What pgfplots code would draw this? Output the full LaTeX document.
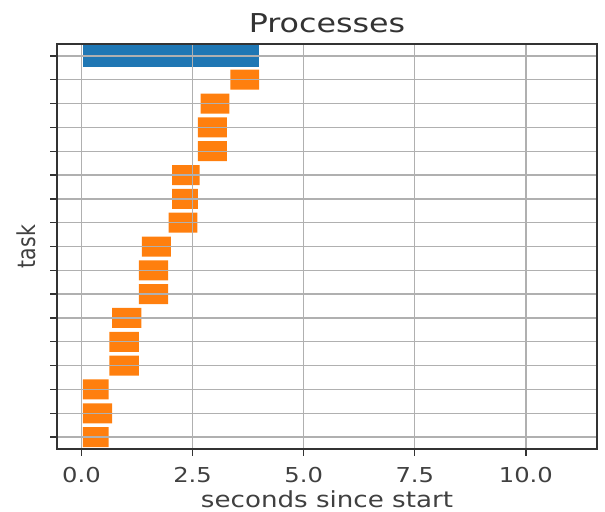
\documentclass[border=0pt]{standalone}
\usepackage{pgfplots}
\usepackage{pgfplotstable}
\pgfplotsset{compat=1.18}
\usepackage{fontspec}
\setmainfont{DejaVu Sans}[FakeStretch=1.18]
\newfontfamily\yfont{DejaVu Sans}[FakeStretch=0.83]
\newfontfamily\tfont{DejaVu Sans}[FakeStretch=1.22]
\usetikzlibrary{calc}
\definecolor{mplblue}{HTML}{1F77B4}
\definecolor{mplorange}{HTML}{FF7F0E}
\definecolor{gridgray}{HTML}{B0B0B0}

\pgfplotstableread{
y start orange blue
0 0.03 0 3.97
1 3.35 0.65 0
2 2.68 0.65 0
3 2.62 0.65 0
4 2.62 0.65 0
5 2.04 0.62 0
6 2.04 0.58 0
7 1.96 0.65 0
8 1.36 0.65 0
9 1.29 0.66 0
10 1.29 0.66 0
11 0.69 0.66 0
12 0.63 0.66 0
13 0.63 0.66 0
14 0.03 0.58 0
15 0.03 0.66 0
16 0.03 0.58 0
}\tasks

\begin{document}
\begin{tikzpicture}
\begin{axis}[
  scale only axis,
  width=405pt, height=303.75pt,
  xbar stacked,
  xmin=-0.55, xmax=11.6,
  ymin=-0.5, ymax=16.5,
  y dir=reverse,
  axis on top,
  xtick={0,2.5,5,7.5,10},
  xticklabels={0.0,2.5,5.0,7.5,10.0},
  ytick={0,1,...,16},
  yticklabels={},
  tick align=outside,
  major tick length=5pt,
  tick style={black!80, line width=1pt},
  xtick pos=bottom, ytick pos=left,
  grid=major,
  major grid style={gridgray, line width=1pt},
  axis line style={black!80, line width=1.2pt},
  /pgf/number format/assume math mode=true,
  xticklabel style={font=\fontsize{15.4pt}{18pt}\selectfont, text=black!75, inner sep=0pt, anchor=north, yshift=-8.8pt},
  title={Processes},
  title style={font=\tfont\fontsize{19.5pt}{23pt}\selectfont, text=black!80, at={(axis description cs:0.5,1)}, anchor=base, yshift=3pt},
  xlabel={seconds since start},
  xlabel style={font=\fontsize{16.6pt}{19pt}\selectfont, text=black!75, at={(axis description cs:0.5,0)}, anchor=base, yshift=-43.5pt},
  ylabel={task},
  ylabel style={font=\yfont\fontsize{18.5pt}{22pt}\selectfont, text=black!75, at={(axis description cs:-0.0389,0.5)}, anchor=base, rotate=0},
]
\addplot[draw=none, fill=none, bar width=0.84] table[x=start, y=y] {\tasks};
\addplot[draw=none, fill=mplorange, bar width=0.84] table[x=orange, y=y] {\tasks};
\addplot[draw=none, fill=mplblue, bar width=0.95] table[x=blue, y=y] {\tasks};
\end{axis}
\pgfresetboundingbox
\path[use as bounding box] ($(current axis.south west)+(-42.75pt,-46.5pt)$) rectangle ($(current axis.north east)+(6pt,33pt)$);
\end{tikzpicture}
\end{document}
